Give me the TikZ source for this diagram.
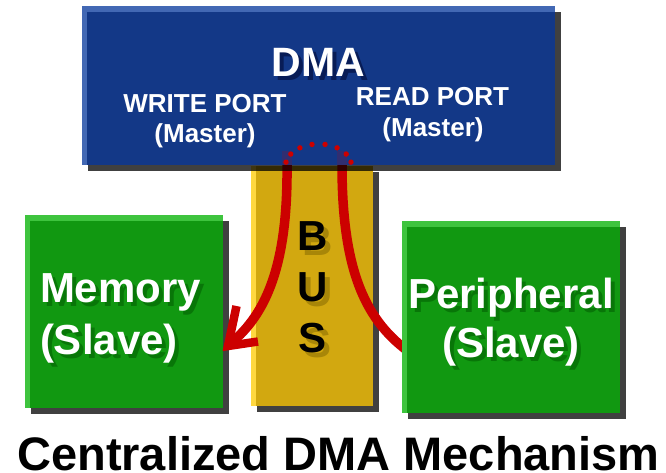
\documentclass[tikz,border=0pt]{standalone}
\usepackage{fontspec}
\setmainfont{Liberation Sans}
\usetikzlibrary{shadows}

\definecolor{dmafill}{RGB}{19,56,135}
\definecolor{dmalight}{RGB}{66,104,180}
\definecolor{dmashade}{RGB}{8,28,86}
\definecolor{grnfill}{RGB}{17,152,17}
\definecolor{grnlight}{RGB}{62,196,62}
\definecolor{grnshade}{RGB}{8,118,8}
\definecolor{busfill}{RGB}{210,168,16}
\definecolor{buslight}{RGB}{255,216,64}
\definecolor{busshade}{RGB}{168,134,8}
\definecolor{flowred}{RGB}{204,0,0}

\begin{document}
\begin{tikzpicture}[x=1pt,y=-1pt,
  box/.style={inner sep=0pt, outer sep=0pt, draw=none,
    drop shadow={shadow xshift=6pt, shadow yshift=-6pt, fill=black, opacity=0.75}},
  hltl/.style={path picture={
    \fill[#1] (path picture bounding box.north west) rectangle ([yshift=-6pt]path picture bounding box.north east);
    \fill[#1] (path picture bounding box.north west) rectangle ([xshift=5pt]path picture bounding box.south west);}},
  hll/.style={path picture={
    \fill[#1] (path picture bounding box.north west) rectangle ([xshift=5pt]path picture bounding box.south west);}},
  txt/.style={inner sep=0pt, outer sep=0pt, anchor=base, text=white,
    font=\fontsize{#1}{#1}\selectfont\bfseries},
  redline/.style={draw=flowred, line width=9.5pt},
]
\useasboundingbox (0,0) rectangle (666,473);

% the bus
\node[box, fill=busfill, hll=buslight, minimum width=122pt, minimum height=240pt] (bus) at (312,286) {};

% memory slave
\node[box, fill=grnfill, hltl=grnlight, minimum width=198pt, minimum height=193pt] (mem) at (124,311.5) {};

% transfer paths
\coordinate (wtop) at (287,151);
\coordinate (rtop) at (342,151);
\coordinate (wend) at (231,343);
\coordinate (tipv) at (228,346);
\coordinate (rend) at (412,354);
\draw[redline] (wtop) -- (287,165) .. controls (288,265) and (266,314) .. (wend);
\draw[draw=flowred, line width=8.5pt, miter limit=20] (236.5,306) -- (tipv) -- (258,341.5);
\draw[redline] (rtop) -- (342,165) .. controls (342,272) and (366,322) .. (rend);

% DMA controller
\node[box, fill=dmafill, hltl=dmalight, minimum width=473pt, minimum height=159pt] (dma) at (318.5,85.5) {};
\draw[flowred, opacity=0.16, line width=10pt] (wtop) -- (287,165);
\draw[flowred, opacity=0.16, line width=10pt] (rtop) -- (342,165);

% dotted link between the two ports
\foreach \k in {0,...,7}{
  \fill[flowred] ({318.5+33*cos(170-22.86*\k)}, {166-22*sin(170-22.86*\k)}) circle (2.7pt);
}

% peripheral slave
\node[box, fill=grnfill, hltl=grnlight, minimum width=218pt, minimum height=192pt] (per) at (511,317) {};

% labels of the DMA
\node[txt=41, text=dmashade] (dmaS) at (322.5,81) {DMA};
\node[txt=41] (dmaT) at (318.5,77) {DMA};
\node[txt=26] (wp) at (205,113) {WRITE PORT};
\node[txt=26] (wm) at (205,143) {(Master)};
\node[txt=26] (rp) at (432.5,106) {READ PORT};
\node[txt=26] (rm) at (433,137) {(Master)};

% labels of the memory
\node[txt=42, anchor=base west, text=grnshade] (memS1) at (44,306) {Memory};
\node[txt=42, anchor=base west, text=grnshade] (memS2) at (44,358) {(Slave)};
\node[txt=42, anchor=base west] (memT1) at (40,302) {Memory};
\node[txt=42, anchor=base west] (memT2) at (40,354) {(Slave)};

% labels of the peripheral
\node[txt=42, text=grnshade] (perS1) at (515,312) {Peripheral};
\node[txt=42, text=grnshade] (perS2) at (515,361) {(Slave)};
\node[txt=42] (perT1) at (511,308) {Peripheral};
\node[txt=42] (perT2) at (511,357) {(Slave)};

% letters on the bus
\foreach \l/\b [count=\i] in {B/250,U/301,S/352}{
  \node[txt=42, text=busshade] (busS\i) at (318,\b+5) {\l};
  \node[txt=42, text=black] (busT\i) at (313,\b) {\l};
}

% caption
\node[txt=47, text=black] (title) at (338.5,470) {Centralized DMA Mechanism};
\end{tikzpicture}
\end{document}
